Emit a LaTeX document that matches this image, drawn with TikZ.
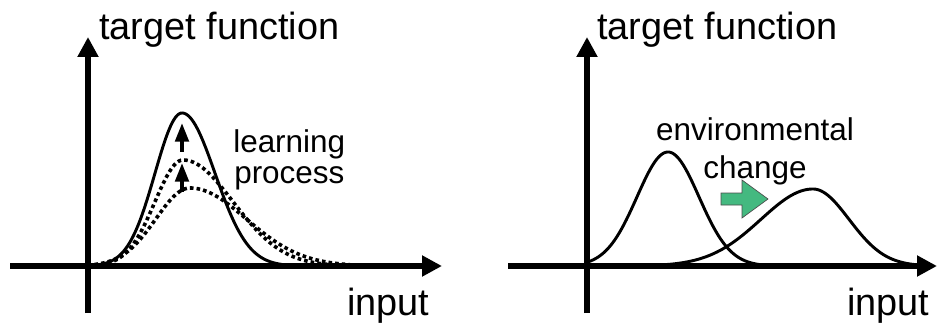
\documentclass[tikz,border=0pt]{standalone}
\usepackage{fontspec}
\setmainfont{Liberation Sans}
\usetikzlibrary{arrows.meta}
\definecolor{shiftgreen}{RGB}{68,185,128}
\tikzstyle{axisline} = [line width=4pt,-{Triangle[length=15pt,width=15pt]}]
\tikzstyle{curveline} = [line width=2.2pt,smooth,samples=120]
\tikzstyle{dotline} = [line width=2.7pt,dash pattern=on 2.7pt off 2.3pt,smooth,samples=120]
\tikzstyle{stepup} = [line width=3pt,-{Triangle[length=14pt,width=10pt]}]
\tikzstyle{biglbl} = [anchor=base west,inner sep=0pt,font=\fontsize{28.4}{34}\selectfont]
\tikzstyle{smalllbl} = [anchor=base west,inner sep=0pt,font=\fontsize{23.6}{28}\selectfont]

\begin{document}
\begin{tikzpicture}[x=0.75pt,y=0.75pt,yscale=-1,xscale=1,
  declare function={gbump(\u,\ctr,\hgt,\sgl,\sgr)=\hgt*exp(-0.5*((\u-\ctr)/(\sgl+(\sgr-\sgl)*(\u>\ctr)))^2);}]
\useasboundingbox (0,0) rectangle (938,324);

%Axes, left panel
\coordinate (ybot1) at (88,313);
\coordinate (ytop1) at (88,37);
\coordinate (xl1) at (10,266);
\coordinate (xr1) at (442,266);
\draw [axisline] (ybot1) -- (ytop1);
\draw [axisline] (xl1) -- (xr1);

%Curve Lines, left panel
\draw [curveline] plot [domain=88:285] ({\x},{266-gbump(\x,182,153,27,33)});
\draw [dotline] plot [domain=88:345] ({\x},{266-gbump(\x,183,106,28,50)});
\draw [dotline] plot [domain=88:350] ({\x},{266-gbump(\x,190,78,34,56)});

%Learning steps
\coordinate (s1a) at (182,192);
\coordinate (s1b) at (182,163);
\coordinate (s2a) at (182,152);
\coordinate (s2b) at (182,123);
\draw [stepup] (s1a) -- (s1b);
\draw [stepup] (s2a) -- (s2b);

% Text Node
\node [biglbl] (tf1) at (99,40) {target function};
% Text Node
\node [biglbl] (in1) at (347,315) {input};
% Text Node
\node [smalllbl] (learn) at (233,152) {learning};
% Text Node
\node [smalllbl] (proc) at (234,184) {process};

%Axes, right panel
\coordinate (ybot2) at (587,313);
\coordinate (ytop2) at (587,37);
\coordinate (xl2) at (508,266);
\coordinate (xr2) at (937,266);
\draw [axisline] (ybot2) -- (ytop2);
\draw [axisline] (xl2) -- (xr2);

%Curve Lines, right panel
\draw [curveline] plot [domain=587:790] ({\x},{266-gbump(\x,668,114,31,31)});
\draw [curveline] plot [domain=630:925] ({\x},{266-gbump(\x,813,77,52,36)});

%Shape: Right Arrow
\draw [fill=shiftgreen,draw=black!70,line width=0.5pt] (721,193) -- (742,193) -- (742,180) -- (768,199) -- (742,218) -- (742,205) -- (721,205) -- cycle;

% Text Node
\node [biglbl] (tf2) at (597,40) {target function};
% Text Node
\node [biglbl] (in2) at (847,315) {input};
% Text Node
\node [smalllbl,anchor=base] (env) at (755,141) {environmental};
% Text Node
\node [smalllbl,anchor=base] (chg) at (755,178) {change};

\end{tikzpicture}
\end{document}
